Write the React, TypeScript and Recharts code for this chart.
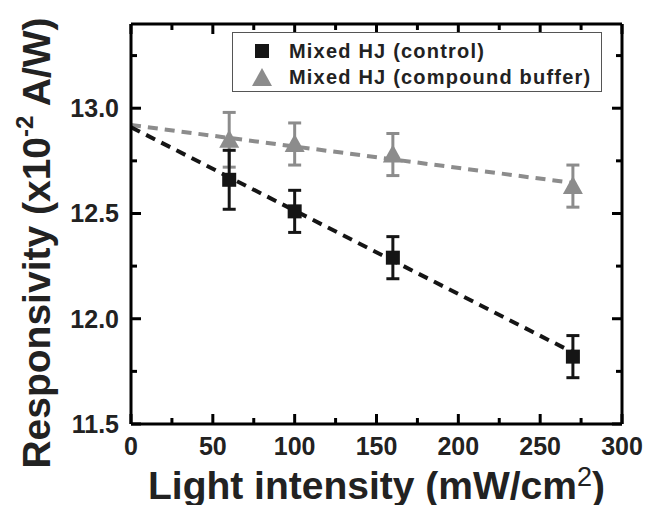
import React from 'react';
import { ComposedChart, XAxis, YAxis, Scatter, Line, ErrorBar, Legend, Label, ReferenceLine } from 'recharts';

// light intensity (mW/cm2)
const intensity = [60, 100, 160, 270];
// responsivity (x10^-2 A/W)
const control = [12.66, 12.51, 12.29, 11.82];
const controlErr = [0.14, 0.1, 0.1, 0.1];
const buffer = [12.85, 12.83, 12.78, 12.63];
const bufferErr = [0.13, 0.1, 0.1, 0.1];

// dashed linear fits, read at both ends
const fitX = [0, 270];
const controlFit = [12.91, 11.84];
const bufferFit = [12.92, 12.645];

const xTicks = [0, 25, 50, 75, 100, 125, 150, 175, 200, 225, 250, 275, 300];
const xLabels = [0, 50, 100, 150, 200, 250, 300];
const yTicks = [11.5, 11.75, 12.0, 12.25, 12.5, 12.75, 13.0, 13.25];
const yLabels = [11.5, 12.0, 12.5, 13.0];

const controlData = intensity.map((x, i) => ({ x, y: control[i], err: controlErr[i] }));
const bufferData = intensity.map((x, i) => ({ x, y: buffer[i], err: bufferErr[i] }));
const controlFitData = fitX.map((x, i) => ({ x, y: controlFit[i] }));
const bufferFitData = fitX.map((x, i) => ({ x, y: bufferFit[i] }));

const FONT = '"Liberation Sans", Arial, sans-serif';
const BLACK = '#151515';
const GRAY = '#8c8c8c';
const AXIS = '#000';
const X_DOMAIN: [number, number] = [0, 300];
const Y_DOMAIN: [number, number] = [11.5, 13.4];

const W = 647;
const H = 505;
const MARGIN = { top: 24, right: 25, bottom: 0, left: 0 };
const Y_AXIS_W = 131;
const X_AXIS_H = 81;
// plot box size, used to mirror the ticks onto the top and right frame
const PLOT_W = W - MARGIN.left - MARGIN.right - Y_AXIS_W;
const PLOT_H = H - MARGIN.top - MARGIN.bottom - X_AXIS_H;

const BottomTick = (props: any) => {
  const { x, y, payload } = props;
  const major = xLabels.includes(payload.value);
  const len = major ? 10 : 6;
  return (
    <g>
      <path d={`M${x},${y}L${x},${y - len}`} stroke={AXIS} strokeWidth={3} />
      <path d={`M${x},${y - PLOT_H}L${x},${y - PLOT_H + len}`} stroke={AXIS} strokeWidth={3} />
      {major && (
        <text x={x} y={y + 31} textAnchor="middle" fontFamily={FONT} fontWeight="bold" fontSize={25} fill="#222">
          {payload.value}
        </text>
      )}
    </g>
  );
};

const LeftTick = (props: any) => {
  const { x, y, payload } = props;
  const major = yLabels.includes(payload.value);
  const len = major ? 10 : 6;
  return (
    <g>
      <path d={`M${x},${y}L${x + len},${y}`} stroke={AXIS} strokeWidth={3} />
      <path d={`M${x + PLOT_W},${y}L${x + PLOT_W - len},${y}`} stroke={AXIS} strokeWidth={3} />
      {major && (
        <text x={x - 12} y={y} dy="0.36em" textAnchor="end" fontFamily={FONT} fontWeight="bold" fontSize={25} fill="#222">
          {payload.value.toFixed(1)}
        </text>
      )}
    </g>
  );
};

const Square = (props: any) => {
  const { cx, cy } = props;
  return <rect x={cx - 7} y={cy - 7} width={14} height={14} fill={BLACK} />;
};

const Triangle = (props: any) => {
  const { cx, cy } = props;
  return <polygon points={`${cx},${cy - 10} ${cx - 10},${cy + 8} ${cx + 10},${cy + 8}`} fill={GRAY} />;
};

const XTitle = (props: any) => {
  const { viewBox } = props;
  const cx = viewBox.x + viewBox.width / 2;
  return (
    <text x={cx} y={viewBox.y + 75} textAnchor="middle" fontFamily={FONT} fontWeight="bold" fontSize={39} fill="#222">
      Light intensity (mW/cm
      <tspan dy={-13} fontSize={27} fontWeight="normal">2</tspan>
      <tspan dy={13}>)</tspan>
    </text>
  );
};

const YTitle = () => (
  <text x={50} y={243} transform="rotate(-90 50 243)" textAnchor="middle" fontFamily={FONT} fontWeight="bold" fontSize={39} fill="#222">
    Responsivity (x10
    <tspan dy={-17} fontSize={24}>-2</tspan>
    <tspan dy={17}> A/W)</tspan>
  </text>
);

const legendItems = [
  { name: 'Mixed HJ (control)', marker: 'square' },
  { name: 'Mixed HJ (compound buffer)', marker: 'triangle' },
];

const LegendBox = () => (
  <div
    style={{
      width: 370,
      height: 60,
      border: '1.5px solid #555',
      background: '#fff',
      boxSizing: 'border-box',
      position: 'relative',
      fontFamily: FONT,
      fontWeight: 'bold',
      fontSize: 20,
      letterSpacing: 1.2,
      color: '#222',
    }}
  >
    {legendItems.map((item, i) => (
      <div key={item.name} style={{ position: 'absolute', left: 0, top: 5 + i * 26, height: 26, display: 'flex', alignItems: 'center' }}>
        <svg width={56} height={26}>
          {item.marker === 'square' ? (
            <rect x={22} y={6} width={14} height={14} fill={BLACK} />
          ) : (
            <polygon points="29,4 19,22 39,22" fill={GRAY} />
          )}
        </svg>
        <span style={{ whiteSpace: 'nowrap' }}>{item.name}</span>
      </div>
    ))}
  </div>
);

export default function App() {
  return (
    <div style={{ position: 'absolute', left: 0, top: 0, background: '#fff' }}>
      <ComposedChart width={W} height={H} margin={MARGIN}>
        <XAxis
          dataKey="x"
          type="number"
          domain={X_DOMAIN}
          ticks={xTicks}
          interval={0}
          height={X_AXIS_H}
          tickSize={0}
          tickMargin={0}
          tick={<BottomTick />}
          axisLine={{ stroke: AXIS, strokeWidth: 3 }}
        >
          <Label content={<XTitle />} />
        </XAxis>
        <YAxis
          dataKey="y"
          type="number"
          domain={Y_DOMAIN}
          ticks={yTicks}
          interval={0}
          width={Y_AXIS_W}
          tickSize={0}
          tickMargin={0}
          tick={<LeftTick />}
          axisLine={{ stroke: AXIS, strokeWidth: 3 }}
        >
          <Label content={<YTitle />} />
        </YAxis>
        {/* top and right frame */}
        <ReferenceLine y={Y_DOMAIN[1]} stroke={AXIS} strokeWidth={3} ifOverflow="extendDomain" />
        <ReferenceLine x={X_DOMAIN[1]} stroke={AXIS} strokeWidth={3} ifOverflow="extendDomain" />
        <Line data={bufferFitData} dataKey="y" stroke={GRAY} strokeWidth={4} strokeDasharray="10 7" dot={false} isAnimationActive={false} />
        <Line data={controlFitData} dataKey="y" stroke={BLACK} strokeWidth={4} strokeDasharray="10 7" dot={false} isAnimationActive={false} />
        <Scatter data={bufferData} dataKey="y" name="Mixed HJ (compound buffer)" shape={<Triangle />} isAnimationActive={false}>
          <ErrorBar dataKey="err" direction="y" width={6.5} strokeWidth={3} stroke={GRAY} />
        </Scatter>
        <Scatter data={controlData} dataKey="y" name="Mixed HJ (control)" shape={<Square />} isAnimationActive={false}>
          <ErrorBar dataKey="err" direction="y" width={6.5} strokeWidth={3} stroke={BLACK} />
        </Scatter>
        <Legend
          layout="vertical"
          align="center"
          verticalAlign="middle"
          content={<LegendBox />}
          wrapperStyle={{ position: 'absolute', left: 232, top: 32, width: 370, height: 60 }}
        />
      </ComposedChart>
    </div>
  );
}
